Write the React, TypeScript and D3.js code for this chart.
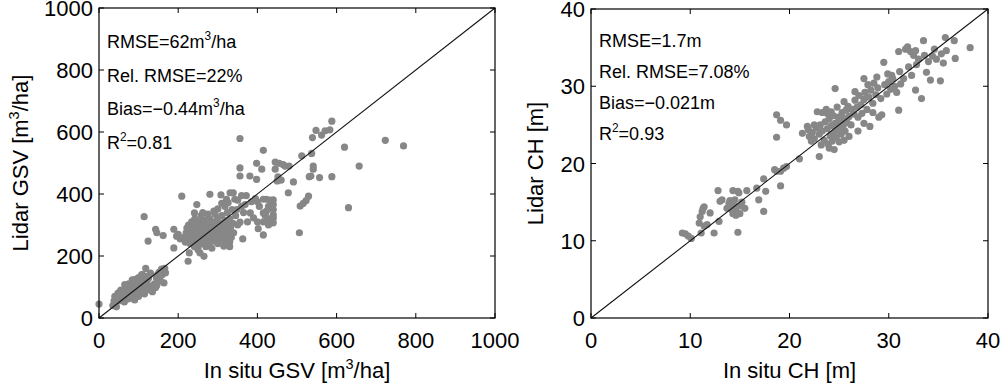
import * as d3 from "d3";

// GSV panel: [in situ, lidar]
const gsvPoints: [number, number][] = [
  [0, 45], [35, 40], [38, 55], [40, 70], [42, 48], [45, 62], [48, 80], [50, 55], [52, 68], [55, 90],
  [58, 60], [60, 75], [62, 85], [64, 52], [66, 95], [68, 70], [70, 80], [72, 100], [74, 62], [76, 88],
  [78, 72], [80, 105], [82, 95], [84, 65], [86, 115], [88, 85], [90, 100], [92, 125], [94, 78], [96, 110],
  [98, 92], [100, 130], [102, 82], [104, 118], [106, 100], [108, 140], [110, 88], [112, 120], [114, 105],
  [116, 135], [118, 160], [120, 95], [122, 110], [125, 128], [128, 100], [130, 145], [135, 85], [140, 110],
  [143, 98], [145, 130], [148, 140], [152, 148], [155, 120], [158, 158], [160, 140], [162, 152], [164, 113],
  [166, 160], [168, 146], [146, 106], [124, 248], [114, 327], [109, 139], [84, 123], [75, 110], [65, 108],
  [56, 82], [44, 36], [90, 58], [100, 70], [115, 78], [130, 90],
  [143, 286], [146, 275], [162, 266], [189, 286], [196, 264], [189, 226], [209, 393], [225, 183], [228, 210],
  [255, 210], [265, 199], [241, 339], [247, 366], [200, 270], [205, 255],
  [215, 260], [218, 245], [220, 275], [222, 290], [224, 255], [226, 300], [228, 268], [230, 240], [232, 285],
  [234, 310], [235, 262], [236, 250], [238, 295], [240, 275], [241, 230], [242, 320], [244, 262], [245, 288],
  [246, 245], [248, 300], [249, 270], [250, 258], [251, 282], [252, 235], [253, 310], [254, 265], [255, 292],
  [256, 248], [257, 275], [258, 330], [259, 260], [260, 285], [261, 240], [262, 300], [263, 270], [264, 255],
  [265, 290], [266, 315], [267, 262], [268, 278], [269, 245], [270, 298], [271, 268], [272, 285], [273, 252],
  [274, 305], [275, 275], [276, 262], [277, 290], [278, 240], [279, 320], [280, 270], [281, 282], [282, 258],
  [283, 300], [284, 275], [285, 248], [286, 288], [287, 265], [288, 310], [289, 280], [290, 255], [291, 295],
  [292, 270], [293, 335], [294, 285], [295, 262], [296, 300], [297, 245], [298, 278], [299, 320], [300, 290],
  [302, 268], [304, 305], [306, 255], [308, 285], [310, 330], [312, 270], [314, 300], [316, 250], [318, 315],
  [320, 285], [322, 265], [324, 340], [326, 300], [328, 275], [330, 320], [332, 290], [334, 260], [336, 350],
  [338, 305], [340, 275], [280, 399], [308, 397], [322, 383], [331, 404], [339, 404], [343, 383], [318, 360],
  [300, 352], [290, 345], [275, 335], [262, 340], [310, 370], [326, 372], [270, 230], [285, 225], [300, 240],
  [315, 232], [330, 245], [250, 220], [330, 230],
  [356, 579], [415, 541], [356, 484], [356, 458], [398, 499], [411, 480], [381, 458], [398, 447], [445, 503],
  [455, 499], [465, 495], [445, 480], [450, 442], [478, 404], [491, 439], [440, 381], [440, 366], [440, 350],
  [440, 333], [440, 322], [440, 307], [415, 383], [423, 383], [432, 380], [415, 339], [423, 345], [402, 288],
  [415, 268], [390, 323], [382, 339], [369, 366], [356, 309], [363, 255], [350, 380], [360, 360], [372, 395],
  [385, 375], [395, 385], [405, 360], [428, 360], [420, 330], [430, 320], [345, 330], [350, 300], [365, 340],
  [375, 310], [360, 395], [348, 350], [400, 310], [415, 310], [428, 300], [400, 375],
  [548, 605], [562, 590], [571, 604], [583, 607], [588, 635], [539, 582], [512, 523], [537, 531], [541, 490],
  [541, 480], [531, 456], [535, 458], [557, 453], [588, 456], [620, 551], [657, 490], [630, 356], [723, 573],
  [769, 555], [506, 275], [508, 361], [516, 370], [523, 379], [529, 393], [470, 490], [480, 490], [452, 455],
  [460, 445],
];

// CH panel: [in situ, lidar]
const chPoints: [number, number][] = [
  [9.2, 11.0], [9.5, 10.9], [9.8, 10.6], [10.1, 10.3], [11.1, 11.0], [11.0, 13.1], [11.2, 13.8], [11.3, 14.2],
  [11.4, 14.4], [10.9, 12.3], [11.4, 11.9], [11.7, 12.1], [12.0, 13.6], [12.4, 11.0], [12.8, 16.5], [12.9, 12.5],
  [13.0, 15.1], [13.2, 15.3], [13.7, 14.2], [13.9, 14.8], [14.0, 15.2], [14.2, 14.0], [14.3, 13.5], [14.4, 14.6],
  [14.5, 15.3], [14.6, 13.8], [14.3, 16.5], [14.8, 16.4], [14.9, 16.2], [14.8, 11.1], [15.7, 16.5], [15.0, 14.5],
  [15.2, 15.0], [15.5, 14.2], [15.0, 13.5], [14.6, 13.3], [16.7, 16.8], [16.9, 15.3], [17.4, 18.0], [17.6, 16.4],
  [17.4, 13.8], [18.5, 19.2], [18.7, 19.0], [19.1, 19.0], [19.1, 17.1], [18.7, 26.3], [19.1, 25.6], [19.7, 25.0],
  [18.7, 23.4], [19.4, 19.4], [19.7, 19.6], [21.0, 20.6], [21.3, 23.9], [21.8, 24.8], [21.9, 24.4], [22.8, 26.7],
  [23.3, 26.6], [23.0, 20.9], [24.6, 29.7],
  [22.0, 23.5], [22.3, 24.0], [22.5, 23.2], [22.7, 24.6], [23.0, 23.8], [23.1, 25.0], [23.3, 24.2], [23.5, 23.0],
  [23.6, 25.4], [23.8, 24.5], [23.9, 22.5], [24.0, 25.8], [24.1, 23.6], [24.2, 24.9], [24.3, 22.9], [24.4, 26.2],
  [24.5, 24.0], [24.6, 25.2], [24.7, 23.4], [24.8, 24.7], [24.9, 26.0], [25.0, 24.3], [25.1, 25.5], [25.2, 23.8],
  [25.3, 26.6], [25.4, 24.9], [25.5, 25.8], [25.6, 24.2], [25.7, 26.9], [25.8, 25.3], [25.9, 27.4], [26.0, 26.1],
  [26.2, 25.0], [26.3, 27.0], [26.5, 26.4], [26.6, 28.2], [26.8, 27.3], [26.9, 26.0], [27.0, 28.8], [27.2, 27.6],
  [27.3, 26.5], [27.5, 28.3], [27.6, 29.2], [27.8, 27.0], [28.0, 28.6], [28.1, 24.8], [28.2, 29.5], [28.4, 27.8],
  [28.5, 30.4], [28.7, 28.9], [28.9, 29.8], [29.0, 26.0], [29.2, 28.4], [29.3, 26.3], [29.5, 33.1], [29.6, 30.2],
  [29.8, 29.0], [30.0, 30.6], [30.2, 29.6], [30.4, 31.0], [30.6, 30.0], [30.8, 29.2], [31.0, 34.5], [31.1, 31.9],
  [31.0, 26.9], [31.2, 30.3], [31.5, 31.0], [31.7, 34.8], [31.9, 35.1], [32.2, 34.5], [32.5, 34.0], [32.7, 34.6],
  [32.7, 29.5], [32.0, 32.5], [32.3, 31.4], [32.8, 32.8], [33.0, 33.5], [33.5, 35.9], [33.3, 28.4], [33.8, 31.8],
  [34.2, 30.8], [33.6, 34.0], [34.0, 33.2], [34.4, 33.9], [34.8, 33.5], [35.2, 30.7], [35.7, 36.3], [35.8, 34.6],
  [35.5, 33.0], [35.3, 34.2], [36.6, 35.9], [36.7, 33.6], [38.2, 35.0], [34.6, 34.8], [30.3, 31.4], [29.9, 31.6],
  [28.8, 31.2], [27.5, 31.0], [27.9, 30.2], [26.6, 29.3], [25.5, 28.0], [24.8, 27.3], [23.8, 26.5], [24.2, 26.7],
  [22.5, 25.0], [22.2, 22.9], [23.2, 22.4], [24.0, 22.0], [24.5, 21.8], [25.5, 23.0], [26.0, 23.5], [26.9, 24.2],
  [27.5, 25.2], [28.4, 26.6], [25.0, 22.8], [23.7, 27.0],
];

const gsvTicks = [0, 200, 400, 600, 800, 1000];
const chTicks = [0, 10, 20, 30, 40];

type Stat = { pre: string; sup?: string; post?: string };
const gsvStats: Stat[] = [
  { pre: "RMSE=62m", sup: "3", post: "/ha" },
  { pre: "Rel. RMSE=22%" },
  { pre: "Bias=\u22120.44m", sup: "3", post: "/ha" },
  { pre: "R", sup: "2", post: "=0.81" },
];
const chStats: Stat[] = [
  { pre: "RMSE=1.7m" },
  { pre: "Rel. RMSE=7.08%" },
  { pre: "Bias=\u22120.021m" },
  { pre: "R", sup: "2", post: "=0.93" },
];

const FONT = "'Liberation Sans', Arial, Helvetica, sans-serif";
const DOT = "#878787";
const TICK_FS = 22;
const STAT_FS = 18;

type PanelProps = {
  left: number;
  right: number;
  top: number;
  bottom: number;
  max: number;
  ticks: number[];
  points: [number, number][];
  stats: Stat[];
  statY: number;
  statGap: number;
  xLabel: Stat;
  yLabel: Stat;
  yLabelX: number;
};

const Label = ({ s, size }: { s: Stat; size: number }) => (
  <>
    <tspan>{s.pre}</tspan>
    {s.sup && (
      <tspan dy={-size * 0.42} fontSize={size * 0.66}>
        {s.sup}
      </tspan>
    )}
    {s.post && <tspan dy={s.sup ? size * 0.42 : 0}>{s.post}</tspan>}
  </>
);

const Panel = (p: PanelProps) => {
  const x = d3.scaleLinear().domain([0, p.max]).range([p.left, p.right]);
  const y = d3.scaleLinear().domain([0, p.max]).range([p.bottom, p.top]);
  const tk = 5;
  return (
    <g fontFamily={FONT}>
      {p.points.map((d, i) => (
        <circle key={i} cx={x(d[0])} cy={y(d[1])} r={3.6} fill={DOT} />
      ))}
      <line x1={x(0)} y1={y(0)} x2={x(p.max)} y2={y(p.max)} stroke="#111" strokeWidth={1.1} />
      <rect
        x={p.left}
        y={p.top}
        width={p.right - p.left}
        height={p.bottom - p.top}
        fill="none"
        stroke="#000"
        strokeWidth={1.2}
      />
      {p.ticks.map((t) => (
        <g key={t}>
          <line x1={x(t)} x2={x(t)} y1={p.bottom} y2={p.bottom - tk} stroke="#000" />
          <line x1={x(t)} x2={x(t)} y1={p.top} y2={p.top + tk} stroke="#000" />
          <line y1={y(t)} y2={y(t)} x1={p.left} x2={p.left + tk} stroke="#000" />
          <line y1={y(t)} y2={y(t)} x1={p.right} x2={p.right - tk} stroke="#000" />
          <text x={x(t)} y={p.bottom + 30} textAnchor="middle" fontSize={TICK_FS}>
            {t}
          </text>
          <text x={p.left - 6} y={y(t) + 8} textAnchor="end" fontSize={TICK_FS}>
            {t}
          </text>
        </g>
      ))}
      {p.stats.map((s, i) => (
        <text key={i} x={p.left + 8} y={p.statY + i * p.statGap} fontSize={STAT_FS}>
          <Label s={s} size={STAT_FS} />
        </text>
      ))}
      <text x={(p.left + p.right) / 2} y={378} textAnchor="middle" fontSize={TICK_FS}>
        <Label s={p.xLabel} size={TICK_FS} />
      </text>
      <text
        transform={`translate(${p.yLabelX},${(p.top + p.bottom) / 2}) rotate(-90)`}
        textAnchor="middle"
        fontSize={TICK_FS}
      >
        <Label s={p.yLabel} size={TICK_FS} />
      </text>
    </g>
  );
};

export default function App() {
  return (
    <div style={{ position: "fixed", left: 0, top: 0 }}>
      <svg width={1000} height={388} style={{ display: "block", background: "#fff" }}>
        <Panel
          left={99}
          right={495}
          top={8}
          bottom={318}
          max={1000}
          ticks={gsvTicks}
          points={gsvPoints}
          stats={gsvStats}
          statY={48}
          statGap={33.5}
          xLabel={{ pre: "In situ GSV [m", sup: "3", post: "/ha]" }}
          yLabel={{ pre: "Lidar GSV [m", sup: "3", post: "/ha]" }}
          yLabelX={28}
        />
        <Panel
          left={591}
          right={988}
          top={9}
          bottom={318}
          max={40}
          ticks={chTicks}
          points={chPoints}
          stats={chStats}
          statY={47}
          statGap={31}
          xLabel={{ pre: "In situ CH [m]" }}
          yLabel={{ pre: "Lidar CH [m]" }}
          yLabelX={543}
        />
      </svg>
    </div>
  );
}
